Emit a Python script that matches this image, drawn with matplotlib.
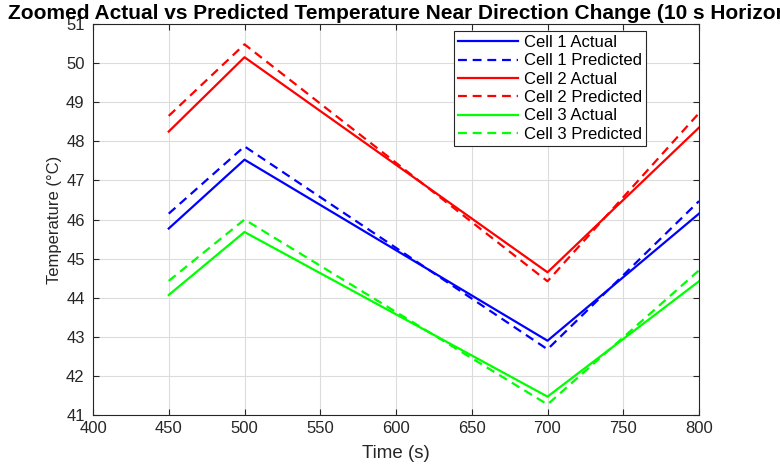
import matplotlib.pyplot as plt

# time points around the direction change
time_s = [450, 500, 700, 800]

cell1_actual = [45.77, 47.53, 42.90, 46.15]
cell1_pred = [46.15, 47.87, 42.68, 46.47]
cell2_actual = [48.25, 50.15, 44.65, 48.35]
cell2_pred = [48.65, 50.48, 44.42, 48.72]
cell3_actual = [44.07, 45.68, 41.47, 44.42]
cell3_pred = [44.43, 46.00, 41.27, 44.70]

plt.rcParams['font.family'] = ['Liberation Sans', 'DejaVu Sans']

fig = plt.figure(figsize=(7.8, 4.7), dpi=100)
ax = fig.add_axes([93 / 780, 55 / 470, 606 / 780, 391 / 470])

lw = 1.6
dash = (4, 2.6)
ax.plot(time_s, cell1_actual, color='#0000ff', lw=lw, label='Cell 1 Actual')
ax.plot(time_s, cell1_pred, color='#0000ff', lw=lw, dashes=dash, label='Cell 1 Predicted')
ax.plot(time_s, cell2_actual, color='#ff0000', lw=lw, label='Cell 2 Actual')
ax.plot(time_s, cell2_pred, color='#ff0000', lw=lw, dashes=dash, label='Cell 2 Predicted')
ax.plot(time_s, cell3_actual, color='#00ff00', lw=lw, label='Cell 3 Actual')
ax.plot(time_s, cell3_pred, color='#00ff00', lw=lw, dashes=dash, label='Cell 3 Predicted')

ax.set_xlim(400, 800)
ax.set_ylim(41, 51)
ax.set_xticks(range(400, 801, 50))
ax.set_yticks(range(41, 52))

ax.grid(True, color='#dcdcdc', lw=0.8)
ax.set_axisbelow(True)
ax.tick_params(direction='in', top=True, right=True, length=4,
               colors='#262626', labelsize=12)
ax.tick_params(axis='y', pad=6)
ax.tick_params(axis='x', pad=4)
for s in ax.spines.values():
    s.set_color('#262626')
    s.set_linewidth(0.8)

ax.set_xlabel('Time (s)', fontsize=13.5, color='#262626', labelpad=7)
ax.set_ylabel('Temperature (°C)', fontsize=12, color='#262626', labelpad=3)

fig.text(8 / 780, 1 - 19 / 470,
         'Zoomed Actual vs Predicted Temperature Near Direction Change (10 s Horizon)',
         fontsize=15, fontweight='bold', ha='left', va='baseline')

leg = ax.legend(loc='upper right', bbox_to_anchor=(646 / 780, 1 - 31 / 470),
                bbox_transform=fig.transFigure, fontsize=12, handlelength=3.6,
                fancybox=False, framealpha=1, edgecolor='#262626',
                labelspacing=0.2, borderpad=0.25, handletextpad=0.35,
                borderaxespad=0)
leg.get_frame().set_linewidth(0.8)

fig.savefig('out.png', dpi=100)
